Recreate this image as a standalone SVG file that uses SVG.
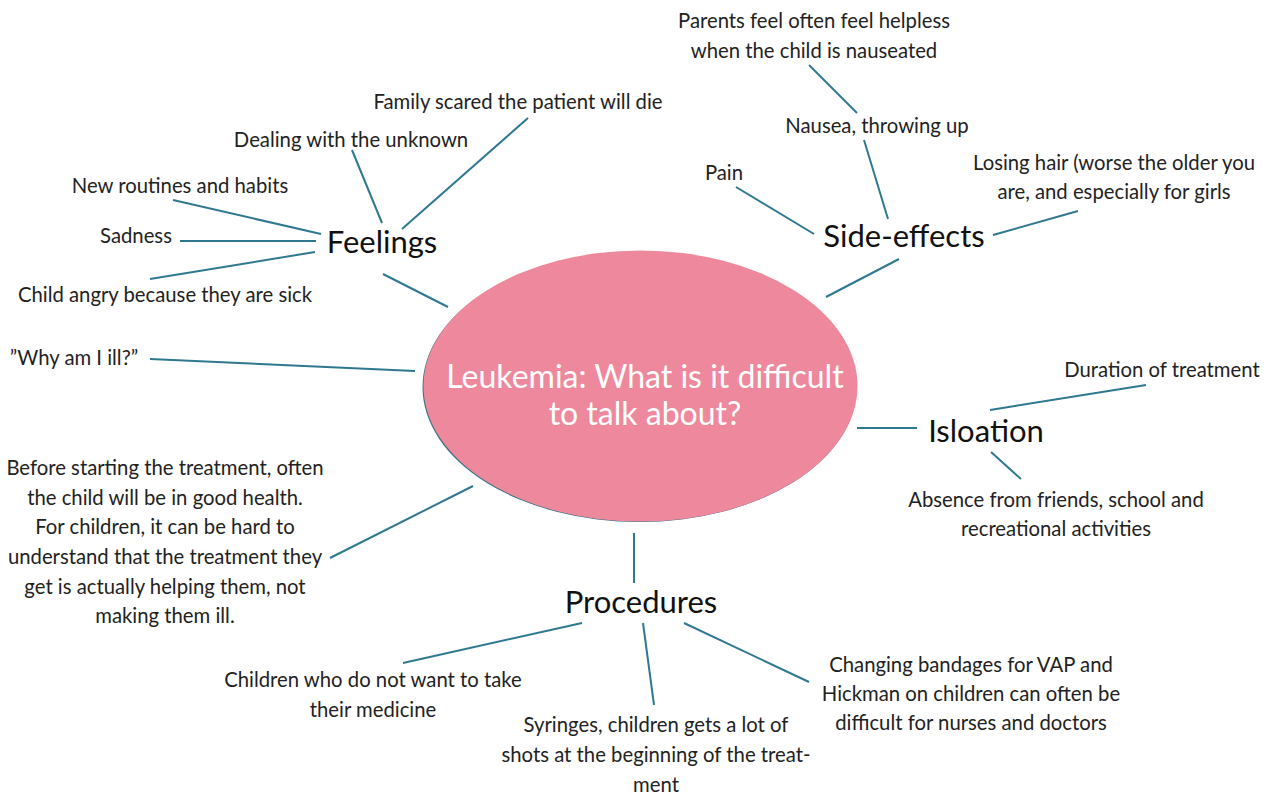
<svg xmlns="http://www.w3.org/2000/svg" width="1274" height="794" viewBox="0 0 1274 794">
<style>
.t{font-family:Lato,"Noto Sans","Liberation Sans",sans-serif;font-size:20.3px;fill:#222;text-anchor:middle}
.h{font-family:Lato,"Noto Sans","Liberation Sans",sans-serif;font-size:31px;fill:#111;text-anchor:middle}
.c{font-family:Lato,"Noto Sans","Liberation Sans",sans-serif;font-size:32px;fill:#fff;text-anchor:middle}
.l{stroke:#2F7890;stroke-width:2;fill:none}
</style>
<rect width="1274" height="794" fill="#fff"/>
<g id="connectors">
<line class="l" x1="383" y1="274" x2="448" y2="307"/>
<line class="l" x1="402" y1="229" x2="528" y2="118"/>
<line class="l" x1="382" y1="223" x2="352" y2="150"/>
<line class="l" x1="173" y1="200" x2="321" y2="234"/>
<line class="l" x1="180" y1="241" x2="316" y2="241"/>
<line class="l" x1="150" y1="279" x2="315" y2="252"/>
<line class="l" x1="150" y1="359" x2="415" y2="371"/>
<line class="l" x1="330" y1="558" x2="473" y2="486"/>
<line class="l" x1="826" y1="297" x2="899" y2="259"/>
<line class="l" x1="736" y1="187" x2="814" y2="234"/>
<line class="l" x1="864" y1="140" x2="888" y2="219"/>
<line class="l" x1="809" y1="65" x2="857" y2="113"/>
<line class="l" x1="993" y1="235" x2="1078" y2="211"/>
<line class="l" x1="857" y1="428" x2="917" y2="428"/>
<line class="l" x1="990" y1="410" x2="1146" y2="385"/>
<line class="l" x1="991" y1="452" x2="1021" y2="479"/>
<line class="l" x1="634" y1="533" x2="634" y2="583"/>
<line class="l" x1="582" y1="623" x2="403" y2="663"/>
<line class="l" x1="643" y1="623" x2="654" y2="705"/>
<line class="l" x1="684" y1="623" x2="809" y2="682"/>
</g>
<g id="center">
<ellipse cx="639.5" cy="387" rx="217" ry="135" fill="#3F7188"/>
<ellipse cx="640.5" cy="386" rx="217" ry="135.5" fill="#EE899D"/>
<text class="c" x="645" y="388">Leukemia: What is it difficult</text>
<text class="c" x="645" y="425">to talk about?</text>
</g>
<g id="feelings"><text class="h" x="382" y="253">Feelings</text></g>
<g id="family"><text class="t" x="518" y="109">Family scared the patient will die</text></g>
<g id="dealing"><text class="t" x="351" y="147">Dealing with the unknown</text></g>
<g id="routines"><text class="t" x="180" y="193">New routines and habits</text></g>
<g id="sadness"><text class="t" x="136" y="243">Sadness</text></g>
<g id="angry"><text class="t" x="165" y="302">Child angry because they are sick</text></g>
<g id="why"><text class="t" x="74" y="365">”Why am I ill?”</text></g>
<g id="before">
<text class="t" x="165" y="475">Before starting the treatment, often</text>
<text class="t" x="165" y="505">the child will be in good health.</text>
<text class="t" x="165" y="534">For children, it can be hard to</text>
<text class="t" x="165" y="564">understand that the treatment they</text>
<text class="t" x="165" y="594">get is actually helping them, not</text>
<text class="t" x="165" y="623">making them ill.</text>
</g>
<g id="side-effects"><text class="h" x="904" y="247">Side-effects</text></g>
<g id="parents">
<text class="t" x="814" y="28">Parents feel often feel helpless</text>
<text class="t" x="814" y="58">when the child is nauseated</text>
</g>
<g id="nausea"><text class="t" x="877" y="133">Nausea, throwing up</text></g>
<g id="pain"><text class="t" x="724" y="180">Pain</text></g>
<g id="hair">
<text class="t" x="1114" y="170">Losing hair (worse the older you</text>
<text class="t" x="1114" y="199">are, and especially for girls</text>
</g>
<g id="isolation"><text class="h" x="986" y="442">Isloation</text></g>
<g id="duration"><text class="t" x="1162" y="377">Duration of treatment</text></g>
<g id="absence">
<text class="t" x="1056" y="507">Absence from friends, school and</text>
<text class="t" x="1056" y="536">recreational activities</text>
</g>
<g id="procedures"><text class="h" x="641" y="613">Procedures</text></g>
<g id="medicine">
<text class="t" x="373" y="687">Children who do not want to take</text>
<text class="t" x="373" y="717">their medicine</text>
</g>
<g id="syringes">
<text class="t" x="656" y="732">Syringes, children gets a lot of</text>
<text class="t" x="656" y="762">shots at the beginning of the treat-</text>
<text class="t" x="656" y="792">ment</text>
</g>
<g id="bandages">
<text class="t" x="971" y="672">Changing bandages for VAP and</text>
<text class="t" x="971" y="701">Hickman on children can often be</text>
<text class="t" x="971" y="730">difficult for nurses and doctors</text>
</g>
</svg>
